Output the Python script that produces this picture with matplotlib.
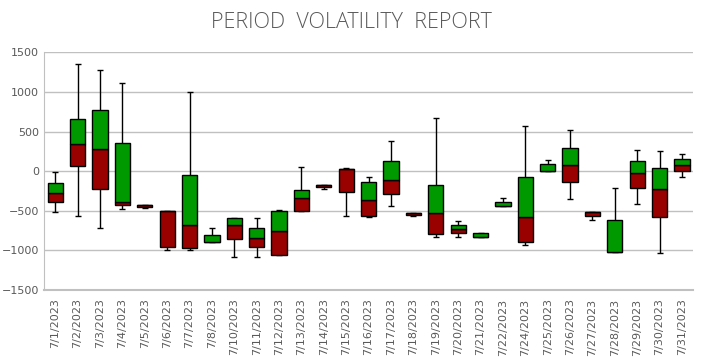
import matplotlib as mpl

mpl.use("Agg")
import matplotlib.pyplot as plt

dates = ["7/1/2023", "7/2/2023", "7/3/2023", "7/4/2023", "7/5/2023", "7/6/2023",
         "7/7/2023", "7/8/2023", "7/10/2023", "7/11/2023", "7/12/2023", "7/13/2023",
         "7/14/2023", "7/15/2023", "7/16/2023", "7/17/2023", "7/18/2023", "7/19/2023",
         "7/20/2023", "7/21/2023", "7/22/2023", "7/24/2023", "7/25/2023", "7/26/2023",
         "7/27/2023", "7/28/2023", "7/29/2023", "7/30/2023", "7/31/2023"]

highs = [-10, 1360, 1273, 1117, -425, -496, 995, -718, -584, -596, -483, 50,
         -176, 38, -76, 378, -529, 668, -630, -781, -340, 567, 139, 517,
         -517, -214, 265, 252, 214]
tops = [-143, 664, 777, 361, -425, -496, -42, -811, -584, -718, -496, -239,
        -176, 25, -139, 126, -529, -176, -680, -781, -391, -76, 88, 290,
        -517, -617, 126, 38, 151]
mids = [-269, 349, 277, -382, -425, -496, -680, -895, -680, -844, -760, -340,
        -176, 25, -365, -113, -529, -529, -731, -832, -441, -580, 0, 76,
        -517, -1015, -25, -227, 76]
bottoms = [-391, 63, -227, -428, -454, -958, -970, -895, -857, -958, -1058, -504,
           -202, -265, -567, -281, -554, -794, -781, -832, -441, -895, 0, -139,
           -567, -1025, -214, -580, 0]
lows = [-517, -567, -718, -479, -465, -1000, -991, -895, -1084, -1084, -1058, -504,
        -227, -567, -580, -441, -567, -832, -832, -832, -441, -932, 0, -353,
        -617, -1025, -416, -1033, -76]

grey = "#595959"

fig = plt.figure(figsize=(7.03, 3.59), dpi=100)
ax = fig.add_axes([0.0626, 0.192, 0.9234, 0.662])

x = list(range(len(dates)))

# whiskers behind the boxes
ax.vlines(x, lows, highs, color="black", linewidth=1, zorder=2)
ax.plot(x, highs, ls="", marker="_", markersize=4, color="black", zorder=2)
ax.plot(x, lows, ls="", marker="_", markersize=4, color="black", zorder=2)

red_h = [m - b for m, b in zip(mids, bottoms)]
green_h = [t - m for t, m in zip(tops, mids)]
ax.bar(x, red_h, bottom=bottoms, width=0.68, color="#990000",
       edgecolor="black", linewidth=1, zorder=3)
ax.bar(x, green_h, bottom=mids, width=0.68, color="#009900",
       edgecolor="black", linewidth=1, zorder=3)

ax.set_xlim(-0.5, len(dates) - 0.5)
ax.set_ylim(-1500, 1500)
ax.set_yticks(range(-1500, 1501, 500))
ax.set_xticks(x)
ax.set_xticklabels(dates, rotation=90)
ax.tick_params(axis="both", length=0, colors=grey, labelsize=8)
ax.tick_params(axis="x", pad=6)
ax.grid(True, axis="y", color="#c0c0c0", linewidth=1, zorder=0)
ax.set_axisbelow(True)
for side in ["top", "right"]:
    ax.spines[side].set_visible(False)
ax.spines["left"].set_color("#c0c0c0")
ax.spines["bottom"].set_color("#c0c0c0")
ax.spines["bottom"].set_linewidth(1.5)

fig.text(0.5, 0.937, "PERIOD  VOLATILITY  REPORT", ha="center", va="center",
         fontsize=15.5, color=grey, family="Open Sans", fontweight=300)

plt.savefig("out.png", dpi=100)
